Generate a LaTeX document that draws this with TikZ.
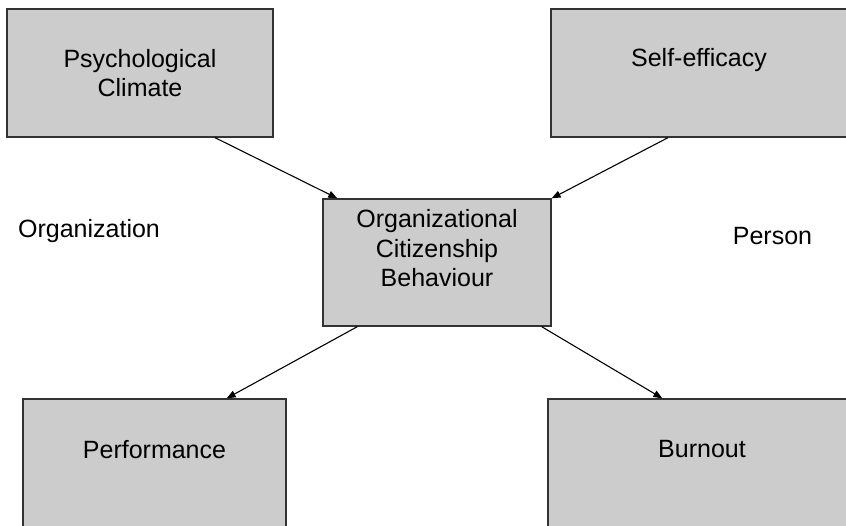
\documentclass[tikz,border=0pt]{standalone}
\usepackage{fontspec}
\setmainfont{Liberation Sans}
\usetikzlibrary{arrows.meta}
\definecolor{boxgray}{HTML}{CCCCCC}
\definecolor{edgegray}{HTML}{333333}

\begin{document}
\begin{tikzpicture}[x=1pt,y=-1pt,
  box/.style={draw=edgegray,fill=boxgray,line width=1.3pt,inner sep=0pt},
  lbl/.style={inner sep=0pt,align=center,font=\fontsize{25}{29.5}\selectfont},
  link/.style={line width=1.1pt,-{Triangle[length=9pt,width=7pt]}}]
 \useasboundingbox (0,0) rectangle (846,525);
 \clip (0,0) rectangle (846,525);
 % boxes
 \node[box,minimum width=266pt,minimum height=128pt] (pc) at (140,73) {};
 \node[box,minimum width=300pt,minimum height=128pt] (se) at (701,73) {};
 \node[box,minimum width=228pt,minimum height=127pt] (ocb) at (437,262.5) {};
 \node[box,minimum width=263pt,minimum height=132pt] (perf) at (154.5,465) {};
 \node[box,minimum width=302pt,minimum height=132pt] (bo) at (699,465) {};
 % texts
 \node[lbl] (pctext) at (140,73) {Psychological\\Climate};
 \node[lbl] (setext) at (699,60.5) {Self-efficacy};
 \node[lbl] (ocbtext) at (437,248.5) {Organizational\\Citizenship\\Behaviour};
 \node[lbl] (perftext) at (154.5,449.5) {Performance};
 \node[lbl] (botext) at (702,449.5) {Burnout};
 \node[lbl] (org) at (89,231) {Organization};
 \node[lbl] (pers) at (772.5,236.5) {Person};
 %
 \draw[link] ([xshift=75pt]pc.south) -- ([xshift=15pt]ocb.north west);
 \draw[link] ([xshift=-33pt]se.south) -- (ocb.north east);
 \draw[link] ([xshift=35pt]ocb.south west) -- ([xshift=-60pt]perf.north east);
 \draw[link] ([xshift=-10pt]ocb.south east) -- ([xshift=115pt]bo.north west);
\end{tikzpicture}
\end{document}
